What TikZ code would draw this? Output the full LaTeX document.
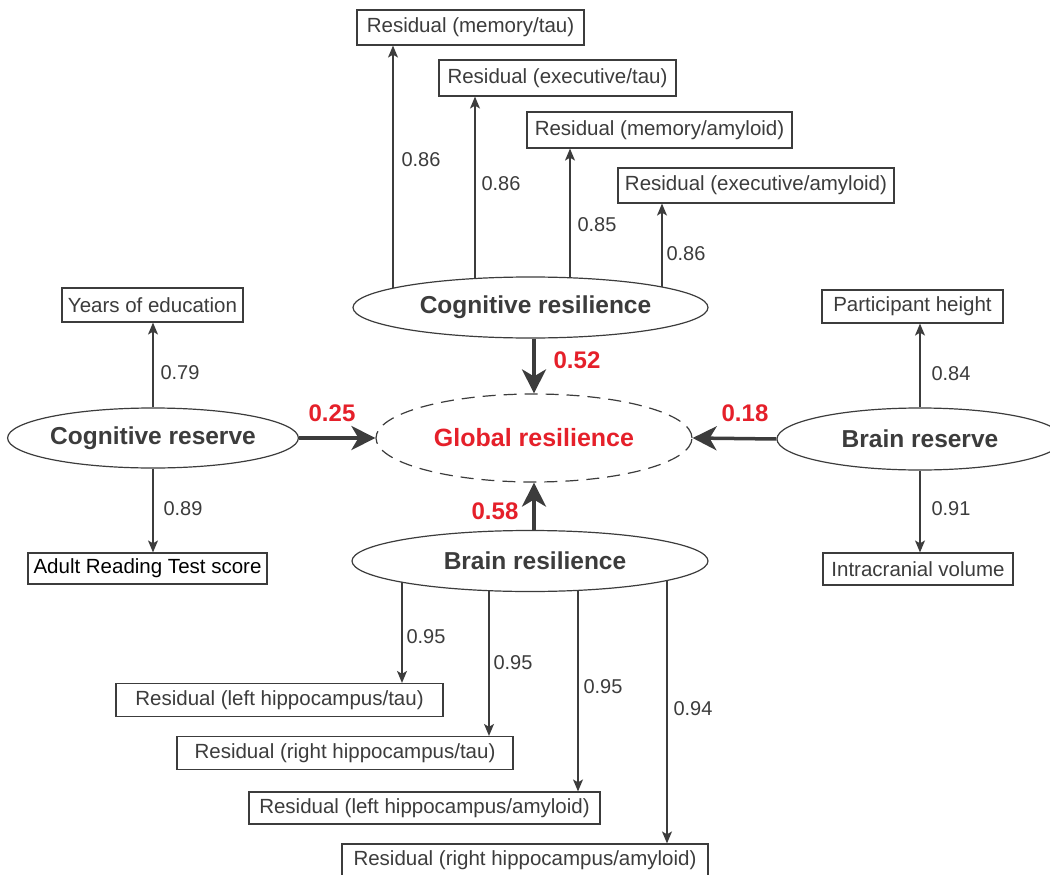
\documentclass[tikz,border=0pt]{standalone}
\usepackage{fontspec}
\setmainfont{Liberation Sans}
\usetikzlibrary{shapes.geometric,arrows.meta,backgrounds}
\definecolor{ink}{HTML}{3C3C3C}
\definecolor{lred}{HTML}{E5202A}
\begin{document}
\begin{tikzpicture}[x=1pt,y=-1pt,
  box/.style={draw=ink, line width=1.2pt, rectangle, inner sep=0pt, text=ink, font=\fontsize{20.5}{24}\selectfont},
  lat/.style={draw=ink, line width=1.2pt, ellipse, inner sep=0pt, fill=white, text=ink, font=\bfseries\fontsize{24.5}{28}\selectfont},
  glob/.style={draw=ink, line width=1.2pt, ellipse, inner sep=0pt, dash pattern=on 13pt off 8pt, text=lred, font=\bfseries\fontsize{25}{28}\selectfont},
  thinarrow/.style={draw=ink, line width=1.2pt, -{Stealth[length=12pt,width=10pt,inset=3pt]}},
  bigarrow/.style={draw=ink, line width=3.5pt, -{Stealth[length=24pt,width=24pt,inset=7pt]}},
  num/.style={text=ink, font=\fontsize{20}{24}\selectfont, inner sep=0pt},
  rednum/.style={text=lred, font=\bfseries\fontsize{24}{28}\selectfont, inner sep=0pt}]
\clip (0,0) rectangle (1050,875);

% latent variables
\node[lat, minimum width=355pt, minimum height=61pt] (cr) at (530.5,307.5) {\hspace*{10pt}Cognitive resilience};
\node[glob, minimum width=316pt, minimum height=88pt] (gr) at (534,438) {Global resilience};
\node[lat, minimum width=283pt, minimum height=60pt] (crv) at (153,438) {Cognitive reserve};
\node[lat, minimum width=286pt, minimum height=62pt] (brv) at (920,439) {Brain reserve};
\node[lat, minimum width=356pt, minimum height=61pt] (brs) at (530,561) {\hspace*{10pt}Brain resilience};

% indicators
\node[box, minimum width=227pt, minimum height=35pt] (mt) at (470.5,27.5) {Residual (memory/tau)};
\node[box, minimum width=237pt, minimum height=36pt] (et) at (557.5,78) {Residual (executive/tau)};
\node[box, minimum width=265pt, minimum height=36pt] (ma) at (659.5,130) {Residual (memory/amyloid)};
\node[box, minimum width=276pt, minimum height=35pt] (ea) at (756,185.5) {Residual (executive/amyloid)};
\node[box, minimum width=181pt, minimum height=34pt] (yoe) at (152.5,305) {Years of education};
\node[box, minimum width=239pt, minimum height=31pt, text=black] (art) at (147.5,568.5) {Adult Reading Test score};
\node[box, minimum width=181pt, minimum height=33pt] (ph) at (912.5,306.5) {Participant height};
\node[box, minimum width=190pt, minimum height=32pt] (icv) at (918,569) {Intracranial volume};
\node[box, minimum width=327pt, minimum height=33pt] (lht) at (279.5,700) {Residual (left hippocampus/tau)};
\node[box, minimum width=336pt, minimum height=33pt] (rht) at (345,753) {Residual (right hippocampus/tau)};
\node[box, minimum width=351pt, minimum height=32pt] (lha) at (424.5,808) {Residual (left hippocampus/amyloid)};
\node[box, minimum width=366pt, minimum height=32pt] (rha) at (525,860) {Residual (right hippocampus/amyloid)};

% arrow columns
\coordinate (u1) at (393,0);
\coordinate (u2) at (475,0);
\coordinate (u3) at (570,0);
\coordinate (u4) at (662,0);
\coordinate (l1) at (402,0);
\coordinate (l2) at (489,0);
\coordinate (l3) at (578,0);
\coordinate (l4) at (667,0);

\begin{pgfonlayer}{background}
\fill[white] (0,0) rectangle (1050,875);
\draw[thinarrow] (cr.center -| u1) -- (mt.south -| u1);
\draw[thinarrow] (cr.center -| u2) -- (et.south -| u2);
\draw[thinarrow] (cr.center -| u3) -- (ma.south -| u3);
\draw[thinarrow] (cr.center -| u4) -- (ea.south -| u4);
\draw[thinarrow] (brs.center -| l1) -- (lht.north -| l1);
\draw[thinarrow] (brs.center -| l2) -- (rht.north -| l2);
\draw[thinarrow] (brs.center -| l3) -- (lha.north -| l3);
\draw[thinarrow] (brs.center -| l4) -- (rha.north -| l4);
\end{pgfonlayer}

\draw[thinarrow] (crv.north) -- (yoe.south -| crv.north);
\draw[thinarrow] (crv.south) -- (art.north -| crv.south);
\draw[thinarrow] (brv.north) -- (ph.south -| brv.north);
\draw[thinarrow] (brv.south) -- (icv.north -| brv.south);

\draw[bigarrow] (cr.south -| gr.north) -- (gr.north);
\draw[bigarrow] (brs.north -| gr.south) -- (gr.south);
\draw[bigarrow] (crv.east) -- (gr.west);
\draw[bigarrow] (brv.west) -- (gr.east);

% loadings
\node[num] (n1) at (421,160) {0.86};
\node[num] (n2) at (501,184) {0.86};
\node[num] (n3) at (597,225) {0.85};
\node[num] (n4) at (686,254) {0.86};
\node[num] (n5) at (180,373) {0.79};
\node[num] (n6) at (183,509) {0.89};
\node[num] (n7) at (951,374) {0.84};
\node[num] (n8) at (951,509) {0.91};
\node[num] (n9) at (426,637) {0.95};
\node[num] (n10) at (513,663) {0.95};
\node[num] (n11) at (603,687) {0.95};
\node[num] (n12) at (693,709) {0.94};

\node[rednum] (r1) at (577,360) {0.52};
\node[rednum] (r2) at (332,413) {0.25};
\node[rednum] (r3) at (745,413) {0.18};
\node[rednum] (r4) at (495,511) {0.58};
\end{tikzpicture}
\end{document}
